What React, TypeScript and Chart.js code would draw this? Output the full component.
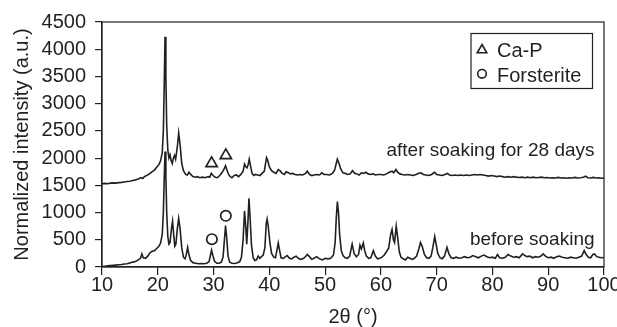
import React, { useEffect, useRef } from "react";
import { Chart, registerables } from "chart.js";

Chart.register(...registerables);

// 2θ (°) , normalized intensity — after soaking for 28 days (offset pattern)
const afterSoaking: number[][] = [
  [10, 1530], [10.5, 1535], [11, 1528], [11.5, 1540], [12, 1545], [12.5, 1540], [13, 1550], [13.5, 1555],
  [14, 1562], [14.5, 1570], [15, 1575], [15.5, 1590], [16, 1600], [16.5, 1615], [17, 1640], [17.3, 1625],
  [17.6, 1660], [18, 1680], [18.5, 1710], [19, 1750], [19.4, 1780], [19.8, 1830], [20.2, 1880], [20.5, 1950],
  [20.8, 2100], [21.0, 2500], [21.15, 3300], [21.3, 4230], [21.45, 3500], [21.6, 2600], [21.8, 2150], [22.0, 2000],
  [22.2, 2060], [22.4, 1950], [22.6, 1900], [22.8, 2000], [23.0, 2050], [23.2, 1980], [23.5, 2200], [23.75, 2460],
  [24.0, 2250], [24.3, 1900], [24.6, 1770], [25.0, 1700], [25.3, 1690], [25.6, 1740], [25.9, 1700], [26.3, 1660],
  [26.7, 1650], [27.1, 1660], [27.5, 1640], [28, 1650], [28.5, 1640], [29, 1660], [29.3, 1650], [29.6, 1720],
  [29.9, 1680], [30.3, 1650], [30.7, 1640], [31.1, 1680], [31.5, 1730], [31.9, 1800], [32.15, 1860], [32.4, 1780],
  [32.7, 1700], [33.0, 1660], [33.3, 1640], [33.7, 1680], [34.1, 1690], [34.5, 1660], [34.9, 1700], [35.3, 1760],
  [35.55, 1890], [35.8, 1840], [36.0, 1820], [36.2, 1880], [36.4, 1980], [36.6, 1870], [36.9, 1720], [37.2, 1680],
  [37.5, 1700], [37.9, 1690], [38.3, 1680], [38.7, 1720], [39.1, 1760], [39.5, 2010], [39.7, 1960], [40.0, 1840],
  [40.4, 1770], [40.8, 1740], [41.2, 1720], [41.6, 1790], [41.9, 1770], [42.3, 1720], [42.7, 1700], [43.0, 1750],
  [43.4, 1730], [43.8, 1710], [44.2, 1720], [44.6, 1700], [45, 1690], [45.5, 1700], [46, 1690], [46.5, 1720],
  [46.8, 1760], [47.2, 1700], [47.6, 1680], [48, 1690], [48.5, 1700], [49, 1690], [49.4, 1730], [49.8, 1700],
  [50.3, 1700], [50.8, 1690], [51.3, 1720], [51.7, 1780], [52.0, 1900], [52.2, 1980], [52.5, 1900], [52.8, 1800],
  [53.2, 1730], [53.6, 1720], [54, 1700], [54.5, 1710], [54.9, 1770], [55.3, 1720], [55.7, 1710], [56.1, 1690],
  [56.5, 1730], [56.9, 1720], [57.3, 1740], [57.7, 1710], [58.1, 1700], [58.6, 1710], [59, 1690], [59.5, 1700],
  [60, 1700], [60.5, 1690], [61, 1710], [61.5, 1740], [62.0, 1760], [62.3, 1730], [62.7, 1790], [63.0, 1740],
  [63.4, 1710], [63.8, 1700], [64.3, 1690], [64.8, 1700], [65.3, 1690], [65.8, 1680], [66.3, 1700], [66.8, 1720],
  [67.2, 1730], [67.6, 1700], [68.1, 1690], [68.6, 1680], [69.1, 1700], [69.6, 1740], [70.0, 1700], [70.5, 1690],
  [71, 1680], [71.5, 1700], [71.9, 1720], [72.3, 1690], [72.8, 1680], [73.3, 1690], [73.8, 1680], [74.3, 1690],
  [74.8, 1680], [75.3, 1690], [75.8, 1680], [76.3, 1690], [76.8, 1700], [77.3, 1690], [77.8, 1700], [78.3, 1690],
  [78.8, 1680], [79.3, 1670], [79.8, 1680], [80.3, 1670], [80.8, 1660], [81.3, 1670], [81.8, 1660], [82.3, 1650],
  [82.8, 1660], [83.3, 1650], [83.8, 1660], [84.3, 1650], [84.8, 1645], [85.3, 1650], [85.8, 1640], [86.3, 1650],
  [86.8, 1640], [87.3, 1650], [87.8, 1640], [88.3, 1645], [88.8, 1650], [89.3, 1640], [89.8, 1645], [90.3, 1635],
  [90.8, 1640], [91.3, 1635], [91.8, 1645], [92.3, 1635], [92.8, 1640], [93.3, 1630], [93.8, 1640], [94.3, 1635],
  [94.8, 1645], [95.3, 1635], [95.8, 1640], [96.3, 1650], [96.7, 1670], [97.1, 1640], [97.6, 1635], [98.1, 1645],
  [98.6, 1635], [99.1, 1640], [99.6, 1630], [100, 1635],
];

// 2θ (°) , normalized intensity — before soaking
const beforeSoaking: number[][] = [
  [10, 10], [10.5, 15], [11, 20], [11.5, 25], [12, 30], [12.5, 35], [13, 40], [13.5, 45], [14, 55], [14.5, 60],
  [15, 75], [15.5, 90], [16, 100], [16.5, 130], [16.9, 160], [17.15, 240], [17.4, 170], [17.8, 160], [18.2, 200],
  [18.6, 260], [19, 290], [19.4, 300], [19.8, 340], [20.2, 380], [20.5, 440], [20.8, 600], [21.0, 1000],
  [21.15, 1600], [21.3, 2120], [21.45, 1700], [21.6, 1000], [21.8, 560], [22.0, 420], [22.2, 450], [22.45, 700],
  [22.65, 840], [22.85, 600], [23.05, 380], [23.25, 420], [23.5, 700], [23.75, 890], [24.0, 700], [24.3, 350],
  [24.6, 180], [24.9, 150], [25.15, 250], [25.35, 360], [25.6, 220], [25.9, 120], [26.3, 80], [26.8, 70],
  [27.3, 60], [27.8, 65], [28.3, 60], [28.8, 70], [29.2, 100], [29.45, 220], [29.65, 310], [29.9, 200],
  [30.2, 100], [30.6, 70], [31.0, 70], [31.4, 90], [31.7, 180], [31.95, 500], [32.15, 760], [32.35, 550],
  [32.6, 200], [32.9, 90], [33.3, 70], [33.8, 65], [34.3, 80], [34.7, 100], [35.0, 180], [35.3, 500],
  [35.55, 1030], [35.8, 700], [35.95, 420], [36.15, 800], [36.35, 1260], [36.55, 900], [36.8, 400], [37.1, 170],
  [37.4, 120], [37.7, 130], [38.0, 200], [38.3, 160], [38.6, 190], [38.9, 220], [39.2, 350], [39.45, 800],
  [39.6, 880], [39.8, 750], [40.1, 450], [40.4, 250], [40.8, 180], [41.1, 170], [41.35, 300], [41.6, 440],
  [41.85, 300], [42.1, 170], [42.5, 160], [42.9, 190], [43.2, 210], [43.6, 160], [44.0, 150], [44.4, 180],
  [44.8, 200], [45.2, 160], [45.6, 140], [46.0, 150], [46.4, 180], [46.8, 230], [47.2, 190], [47.6, 140],
  [48.0, 160], [48.5, 190], [49.0, 150], [49.5, 130], [50.0, 160], [50.5, 150], [51.0, 160], [51.5, 220],
  [51.8, 450], [52.0, 900], [52.2, 1200], [52.4, 1000], [52.6, 600], [52.9, 300], [53.2, 210], [53.6, 170],
  [54.0, 160], [54.4, 200], [54.85, 420], [55.2, 250], [55.6, 190], [56.0, 230], [56.25, 400], [56.5, 330],
  [56.85, 440], [57.1, 300], [57.4, 200], [57.8, 160], [58.2, 170], [58.65, 300], [59.0, 200], [59.4, 150],
  [59.8, 160], [60.2, 180], [60.6, 220], [61.0, 280], [61.4, 350], [61.75, 600], [62.0, 690], [62.25, 500],
  [62.45, 450], [62.75, 750], [63.0, 550], [63.3, 280], [63.6, 180], [64.0, 150], [64.4, 130], [64.8, 180],
  [65.2, 160], [65.6, 140], [66.0, 160], [66.4, 200], [66.8, 330], [67.1, 450], [67.4, 380], [67.8, 230],
  [68.2, 170], [68.6, 160], [69.0, 200], [69.3, 350], [69.65, 560], [69.9, 420], [70.2, 250], [70.6, 170],
  [71.0, 150], [71.4, 200], [71.85, 360], [72.2, 240], [72.6, 170], [73.0, 160], [73.5, 180], [74.0, 160],
  [74.5, 170], [75.0, 190], [75.5, 170], [76.0, 180], [76.5, 210], [77.0, 190], [77.5, 170], [78.0, 200],
  [78.5, 220], [79.0, 190], [79.5, 170], [80.0, 180], [80.5, 160], [80.9, 230], [81.3, 170], [81.8, 160],
  [82.3, 180], [82.8, 230], [83.3, 200], [83.8, 180], [84.3, 190], [84.8, 170], [85.4, 240], [85.8, 210],
  [86.2, 190], [86.7, 200], [87.2, 170], [87.7, 190], [88.2, 180], [88.7, 200], [89.1, 240], [89.5, 200],
  [90.0, 170], [90.5, 180], [91.0, 160], [91.5, 190], [92.0, 200], [92.5, 180], [93.0, 170], [93.5, 160],
  [94.0, 180], [94.5, 170], [95.0, 160], [95.5, 180], [96.0, 200], [96.45, 300], [96.8, 230], [97.2, 180],
  [97.6, 170], [98.0, 230], [98.3, 240], [98.7, 190], [99.1, 180], [99.5, 170], [100, 175],
];

// Phase markers
const caPX = [29.65, 32.2];
const caPY = [1903, 2050];
const forsteriteX = [29.7, 32.2];
const forsteriteY = [511, 940];

const seriesNames = ["after soaking for 28 days", "before soaking"];
const seriesLabelX = [98.3, 98.3];
const seriesLabelY = [2047, 406];
const legendNames = ["Ca-P", "Forsterite"];

const INK = "#231f20";
const FONT = '"Liberation Sans", Arial, Helvetica, sans-serif';

const overlayPlugin = {
  id: "overlay",
  afterDatasetsDraw(chart: any) {
    const { ctx, chartArea: a, scales } = chart;
    const x = scales.x;
    const y = scales.y;
    ctx.save();
    ctx.strokeStyle = INK;
    ctx.lineWidth = 1.2;
    ctx.strokeRect(a.left, a.top, a.right - a.left, a.bottom - a.top);

    // series labels
    ctx.fillStyle = INK;
    ctx.font = `19px ${FONT}`;
    ctx.textAlign = "right";
    ctx.textBaseline = "alphabetic";
    for (let i = 0; i < seriesNames.length; i++) {
      ctx.fillText(seriesNames[i], x.getPixelForValue(seriesLabelX[i]), y.getPixelForValue(seriesLabelY[i]));
    }

    // legend box
    const bw = 121.5;
    const bh = 55;
    const bx = a.right - 11.5 - bw;
    const by = a.top + 11.5;
    ctx.lineWidth = 1.2;
    ctx.strokeRect(bx, by, bw, bh);
    const mx = bx + 11;
    // triangle
    const tr = 5.5;
    const ty = by + 16.5;
    ctx.lineWidth = 1.6;
    ctx.beginPath();
    for (let k = 0; k < 3; k++) {
      const ang = (k * 2 * Math.PI) / 3;
      const px = mx + Math.sin(ang) * tr;
      const py = ty - Math.cos(ang) * tr;
      if (k === 0) ctx.moveTo(px, py);
      else ctx.lineTo(px, py);
    }
    ctx.closePath();
    ctx.stroke();
    // circle
    ctx.beginPath();
    ctx.arc(mx, by + 40.3, 4.3, 0, Math.PI * 2);
    ctx.stroke();

    ctx.font = `20px ${FONT}`;
    ctx.textAlign = "left";
    ctx.fillText(legendNames[0], bx + 26, by + 23.3);
    ctx.fillText(legendNames[1], bx + 26, by + 48.3);
    ctx.restore();
  },
};

export default function App() {
  const ref = useRef<HTMLCanvasElement | null>(null);

  useEffect(() => {
    if (!ref.current) return;
    const toXY = (arr: number[][]) => arr.map((p) => ({ x: p[0], y: p[1] }));
    const pts = (xs: number[], ys: number[]) => xs.map((v, i) => ({ x: v, y: ys[i] }));
    const tickFont = { family: FONT, size: 20, lineHeight: 1 };

    const chart = new Chart(ref.current, {
      type: "line",
      data: {
        datasets: [
          {
            label: seriesNames[0],
            data: toXY(afterSoaking),
            borderColor: INK,
            borderWidth: 1.6,
            pointRadius: 0,
            tension: 0,
            fill: false,
          },
          {
            label: seriesNames[1],
            data: toXY(beforeSoaking),
            borderColor: INK,
            borderWidth: 1.6,
            pointRadius: 0,
            tension: 0,
            fill: false,
          },
          {
            type: "scatter",
            label: legendNames[0],
            data: pts(caPX, caPY),
            showLine: false,
            pointStyle: "triangle",
            pointRadius: 6.5,
            borderColor: INK,
            borderWidth: 1.7,
            backgroundColor: "rgba(0,0,0,0)",
          },
          {
            type: "scatter",
            label: legendNames[1],
            data: pts(forsteriteX, forsteriteY),
            showLine: false,
            pointStyle: "circle",
            pointRadius: 5.2,
            borderColor: INK,
            borderWidth: 1.7,
            backgroundColor: "rgba(0,0,0,0)",
          },
        ] as any,
      },
      options: {
        responsive: false,
        animation: false,
        events: [],
        layout: { padding: { top: 22, right: 13, left: 0, bottom: 0 } },
        plugins: { legend: { display: false }, tooltip: { enabled: false } },
        scales: {
          x: {
            type: "linear",
            min: 10,
            max: 100,
            ticks: {
              stepSize: 10,
              color: INK,
              font: tickFont,
              padding: 0,
              maxRotation: 0,
              callback: (v: any) => String(v),
            },
            grid: { drawOnChartArea: false, drawTicks: true, tickLength: 8, color: INK, lineWidth: 1.2 },
            border: { color: INK, width: 1.2 },
            title: {
              display: true,
              text: "2θ (°)",
              color: INK,
              font: { family: FONT, size: 20, lineHeight: 1 },
              padding: { top: 0, bottom: 0 },
            },
            afterFit: (s: any) => {
              s.height = 60;
              s.paddingLeft = 0;
              s.paddingRight = 0;
            },
          },
          y: {
            type: "linear",
            min: 0,
            max: 4500,
            ticks: {
              stepSize: 500,
              color: INK,
              font: tickFont,
              padding: 9,
              callback: (v: any) => String(v),
            },
            grid: { drawOnChartArea: false, drawTicks: true, tickLength: 7, color: INK, lineWidth: 1.2 },
            border: { color: INK, width: 1.2 },
            title: {
              display: true,
              text: "Normalized intensity (a.u.)",
              color: INK,
              font: { family: FONT, size: 20, lineHeight: 1 },
              padding: { top: 12, bottom: 0 },
            },
            afterFit: (s: any) => {
              s.width = 102;
              s.paddingTop = 0;
              s.paddingBottom = 0;
            },
          },
        },
      } as any,
      plugins: [overlayPlugin],
    });
    return () => chart.destroy();
  }, []);

  return (
    <div style={{ position: "absolute", left: 0, top: 0, width: 617, height: 327, background: "#fff" }}>
      <canvas ref={ref} width={617} height={327} style={{ display: "block" }} />
    </div>
  );
}
